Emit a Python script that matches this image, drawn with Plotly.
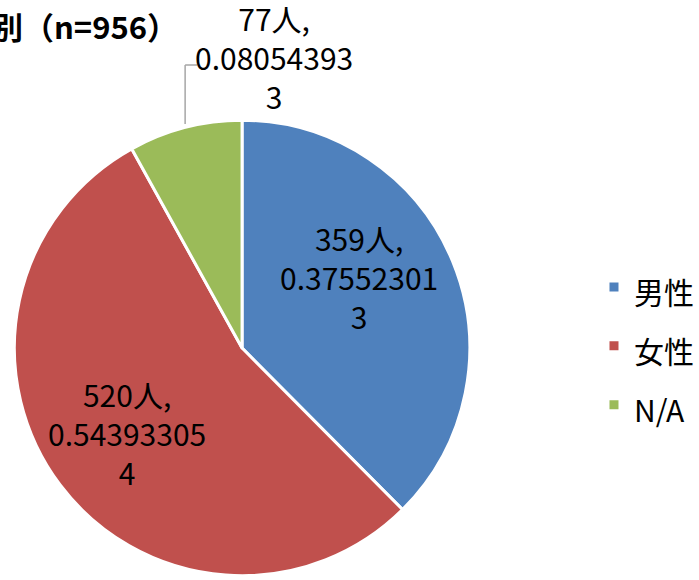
import plotly.graph_objects as go

# ---- data ----
categories = ["男性", "女性", "N/A"]
counts = [359, 520, 77]
total_n = 956
title_text = "性別（n=956）"

colors = ["#4F81BD", "#C0504D", "#9BBB59"]
FONT = "Noto Sans CJK JP"
W, H = 699, 580

# pie geometry (pixels)
cx, cy, R = 244.5, 348, 230

proportions = [c / total_n for c in counts]

def label_text(cnt, p):
    s = f"{p:.9f}"
    return f"{cnt}人,<br>{s[:10]}<br>{s[10:]}"

legend_labels = [f"<span style='font-size:30px'>{c}</span>" for c in categories]

fig = go.Figure(go.Pie(
    labels=legend_labels,
    values=counts,
    sort=False,
    direction="clockwise",
    rotation=0,
    marker=dict(colors=colors, line=dict(color="white", width=3)),
    textinfo="none",
    hoverinfo="label+value+percent",
    domain=dict(x=[(cx - R) / W, (cx + R) / W],
                y=[(H - (cy + R)) / H, (H - (cy - R)) / H]),
))

def px(x):
    return x / W

def py(y):
    return 1 - y / H

# data label positions (pixels, layout)
label_pos = [(363, 277), (128, 433), (277, 57)]
annotations = []
for (x, y), cnt, p in zip(label_pos, counts, proportions):
    annotations.append(dict(
        x=px(x), y=py(y), xref="paper", yref="paper",
        text=label_text(cnt, p), showarrow=False,
        xanchor="center", yanchor="middle", align="center",
        font=dict(family=FONT, size=30, color="black"),
    ))

annotations.append(dict(
    x=px(182), y=py(25), xref="paper", yref="paper",
    text=f"<b>{title_text}</b>", showarrow=False,
    xanchor="right", yanchor="middle",
    font=dict(family=FONT, size=31, color="black"),
))

shapes = [
    dict(type="line", xref="paper", yref="paper",
         x0=px(187), y0=py(124), x1=px(187), y1=py(65),
         line=dict(color="#A6A6A6", width=1.5)),
    dict(type="line", xref="paper", yref="paper",
         x0=px(187), y0=py(65), x1=px(199), y1=py(65),
         line=dict(color="#A6A6A6", width=1.5)),
]

fig.update_layout(
    width=W, height=H,
    margin=dict(l=0, r=0, t=0, b=0),
    paper_bgcolor="white",
    plot_bgcolor="white",
    showlegend=True,
    legend=dict(
        x=px(600), y=py(346), xanchor="left", yanchor="middle",
        font=dict(family=FONT, size=43, color="black"),
        bgcolor="rgba(0,0,0,0)",
    ),
    annotations=annotations,
    shapes=shapes,
)

fig.write_html("out.html")
